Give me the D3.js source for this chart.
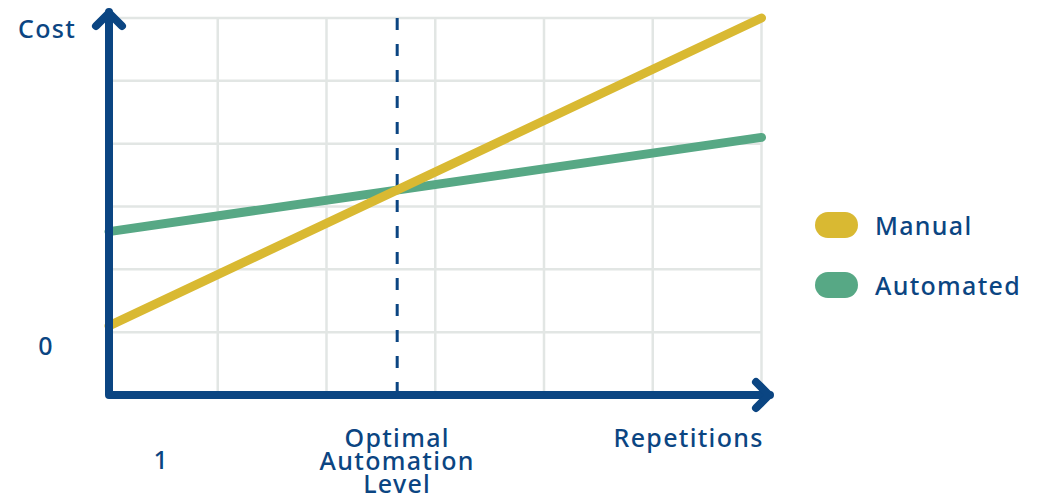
<!DOCTYPE html>
<html>
<head>
<meta charset="utf-8">
<script src="https://cdn.jsdelivr.net/npm/d3@7"></script>
<style>
  html, body { margin: 0; padding: 0; background: #fff; }
  svg { display: block; }
</style>
</head>
<body>
<div id="chart"></div>
<script>
// chart values
var seriesNames = ["Manual", "Automated"];
var repetitions = [0, 6];
var manualCost = [1.1, 6.0];
var automatedCost = [2.6, 4.1];
var optimalLevel = 2.65;
var gridTicks = [1, 2, 3, 4, 5, 6];
var yTickLabels = [{ v: 0.78, t: "0" }];
var xTickLabels = [
  { v: 0.48, t: ["1"], dy: 1 },
  { v: optimalLevel, t: ["Optimal", "Automation", "Level"], dy: 0 },
  { v: 5.33, t: ["Repetitions"], dy: 0 }
];

var width = 1046, height = 497;
var navy = "#0b4582",
    colors = ["#d9b932", "#57a885"],
    gridColor = "#e2e6e4",
    font = "'Noto Sans', sans-serif";

var x0 = 109, x1 = 761.5, y0 = 395, y1 = 18;

var x = d3.scaleLinear().domain([0, 6]).range([x0, x1]);
var y = d3.scaleLinear().domain([0, 6]).range([y0, y1]);

var svg = d3.select("#chart").append("svg")
    .attr("width", width)
    .attr("height", height);

// grid
var grid = svg.append("g");
grid.selectAll("line.h")
  .data(gridTicks)
  .enter().append("line")
    .attr("x1", x0).attr("x2", x(6))
    .attr("y1", function(d) { return y(d); })
    .attr("y2", function(d) { return y(d); })
    .attr("stroke", gridColor)
    .attr("stroke-width", 2.5);
grid.selectAll("line.v")
  .data(gridTicks)
  .enter().append("line")
    .attr("x1", function(d) { return x(d); })
    .attr("x2", function(d) { return x(d); })
    .attr("y1", y(6)).attr("y2", y0)
    .attr("stroke", gridColor)
    .attr("stroke-width", 2.5);

// optimal level
svg.append("line")
  .attr("x1", x(optimalLevel)).attr("x2", x(optimalLevel))
  .attr("y1", y(6)).attr("y2", y0)
  .attr("stroke", navy)
  .attr("stroke-width", 3)
  .attr("stroke-dasharray", "12,14");

// series
var line = d3.line()
  .x(function(d) { return x(d[0]); })
  .y(function(d) { return y(d[1]); });

var series = [
  repetitions.map(function(r, i) { return [r, manualCost[i]]; }),
  repetitions.map(function(r, i) { return [r, automatedCost[i]]; })
];

[1, 0].forEach(function(i) {
  svg.append("path")
    .attr("d", line(series[i]))
    .attr("fill", "none")
    .attr("stroke", colors[i])
    .attr("stroke-width", 9)
    .attr("stroke-linecap", "round");
});

// axes with arrows
var axes = svg.append("g")
  .attr("fill", "none")
  .attr("stroke", navy)
  .attr("stroke-width", 8)
  .attr("stroke-linecap", "round")
  .attr("stroke-linejoin", "round");

axes.append("path")
  .attr("d", "M" + x0 + ",12 L" + x0 + "," + y0 + " L770," + y0);
axes.append("path")
  .attr("d", "M" + (x0 - 13) + ",26 L" + x0 + ",13 L" + (x0 + 13) + ",26");
axes.append("path")
  .attr("d", "M756," + (y0 - 13) + " L769," + y0 + " L756," + (y0 + 13));

// labels
var text = svg.append("g")
  .style("font-family", font)
  .style("font-weight", 500)
  .style("font-size", "25px")
  .style("letter-spacing", "1.3px")
  .attr("fill", navy);

text.append("text")
  .attr("x", 47).attr("y", 38)
  .attr("text-anchor", "middle")
  .text("Cost");

yTickLabels.forEach(function(d) {
  text.append("text")
    .attr("x", 46).attr("y", y(d.v) + 9)
    .attr("text-anchor", "middle")
    .text(d.t);
});

xTickLabels.forEach(function(d) {
  var t = text.append("text")
    .attr("x", x(d.v))
    .attr("y", d.dy ? 469 : 447)
    .attr("text-anchor", "middle");
  d.t.forEach(function(s, i) {
    t.append("tspan")
      .attr("x", x(d.v))
      .attr("dy", i === 0 ? 0 : 23)
      .text(s);
  });
});

// legend
var legend = svg.append("g")
  .attr("transform", "translate(815,212)");
seriesNames.forEach(function(name, i) {
  var g = legend.append("g").attr("transform", "translate(0," + i * 60 + ")");
  g.append("rect")
    .attr("width", 43).attr("height", 26)
    .attr("rx", 13)
    .attr("fill", colors[i]);
  g.append("text")
    .attr("x", 60).attr("y", 23)
    .style("font-family", font)
    .style("font-weight", 500)
    .style("font-size", "25px")
    .style("letter-spacing", "1.3px")
    .attr("fill", navy)
    .text(name);
});
</script>
</body>
</html>
